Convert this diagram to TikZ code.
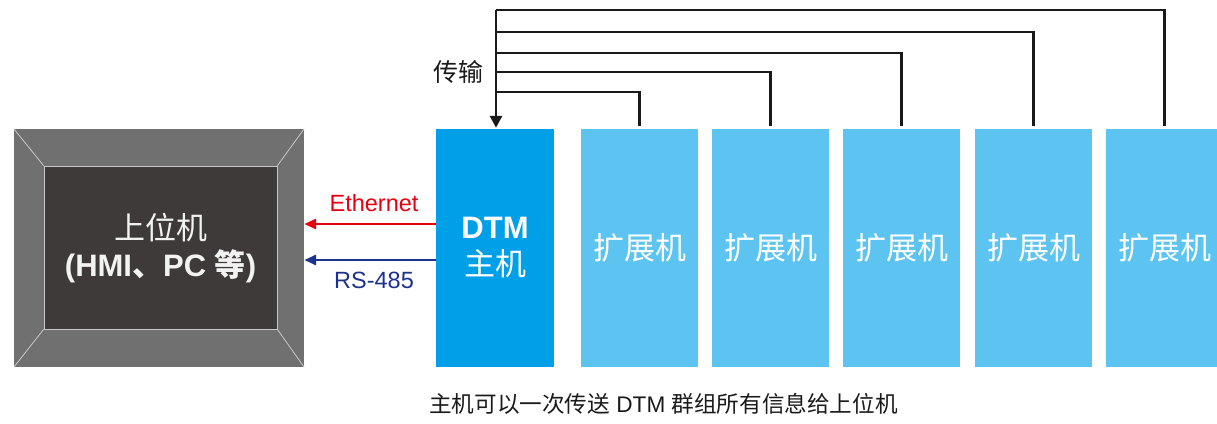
\documentclass[tikz,border=0pt]{standalone}
\usepackage{fontspec}
\setmainfont{Liberation Sans}
\newfontfamily\cjk{Noto Sans CJK SC}
\usetikzlibrary{arrows.meta}
\definecolor{hostout}{HTML}{707070}
\definecolor{hostin}{HTML}{3E3A39}
\definecolor{bevel}{HTML}{C8C8C8}
\definecolor{dtmblue}{HTML}{00A0E9}
\definecolor{extblue}{HTML}{5DC4F2}
\definecolor{ethred}{HTML}{E50012}
\definecolor{rsblue}{HTML}{1D328C}
\definecolor{ink}{HTML}{1A1A1A}
\tikzset{
  boxtext/.style={font=\fontsize{31}{37}\selectfont, text=white, align=center, inner sep=0pt},
  dtmbox/.style={boxtext, fill=dtmblue, minimum width=118pt, minimum height=238pt},
  extbox/.style={boxtext, fill=extblue, minimum width=117pt, minimum height=238pt},
  bus/.style={draw=ink, line width=2.8pt},
  link/.style={line width=2.8pt, -{Triangle[length=12pt,width=10pt]}},
  lbl/.style={font=\fontsize{23.5}{28}\selectfont, inner sep=0pt}
}
\begin{document}
\begin{tikzpicture}[x=1pt,y=-1pt]
\useasboundingbox (0,0) rectangle (1217,423);
% host
\node[fill=hostout, minimum width=290pt, minimum height=238pt, inner sep=0pt] (host) at (159,248) {};
\node[fill=hostin, minimum width=233pt, minimum height=163pt, inner sep=0pt, draw=bevel, line width=0.8pt] (hostin) at (160.5,247.5) {};
\draw[bevel, line width=0.8pt] (host.north west) -- (hostin.north west)
  (host.north east) -- (hostin.north east)
  (host.south west) -- (hostin.south west)
  (host.south east) -- (hostin.south east);
\node[boxtext, text=white!95!black] (hosttext) at (160.5,248) {{\cjk 上位机}\\{\bfseries (HMI{\cjk 、}PC {\cjk 等})}};
% DTM
\node[dtmbox] (dtm) at (495,248) {{\bfseries DTM}\\{\cjk 主机}};
% expansion units
\node[extbox] (e1) at (639.5,248) {\cjk 扩展机};
\node[extbox] (e2) at (770.5,248) {\cjk 扩展机};
\node[extbox] (e3) at (901.5,248) {\cjk 扩展机};
\node[extbox] (e4) at (1033.5,248) {\cjk 扩展机};
\node[extbox] (e5) at (1164.5,248) {\cjk 扩展机};
% bus
\coordinate (top) at (496,10);
\draw[bus, shorten <=3pt] (e5.north) |- (top);
\draw[bus, shorten <=3pt] (e4.north) |- (496,32);
\draw[bus, shorten <=3pt] (e3.north) |- (496,53);
\draw[bus, shorten <=3pt] (e2.north) |- (496,72) coordinate (lab);
\draw[bus, shorten <=3pt] (e1.north) |- (496,92);
\draw[bus, -{Triangle[length=12pt,width=12pt]}, shorten >=1pt] (top) -- (dtm.north -| top);
\node[font=\fontsize{25}{30}\selectfont\cjk, text=ink, anchor=east, inner sep=0pt] (trans) at ([xshift=-12pt]lab) {传输};
% links
\draw[link, ethred] ([yshift=24pt]dtm.west) -- ([yshift=24pt]dtm.west -| host.east)
  node[lbl, midway, yshift=21pt, xshift=4pt, text=ethred] (ethl) {Ethernet};
\draw[link, rsblue] ([yshift=-12pt]dtm.west) -- ([yshift=-12pt]dtm.west -| host.east)
  node[lbl, midway, yshift=-20pt, xshift=4pt, text=rsblue] (rsl) {RS-485};
% caption
\node[font=\fontsize{22.6}{27}\selectfont, text=ink, inner sep=0pt] (cap) at (663.5,404) {{\cjk 主机可以一次传送} DTM {\cjk 群组所有信息给上位机}};
\end{tikzpicture}
\end{document}
